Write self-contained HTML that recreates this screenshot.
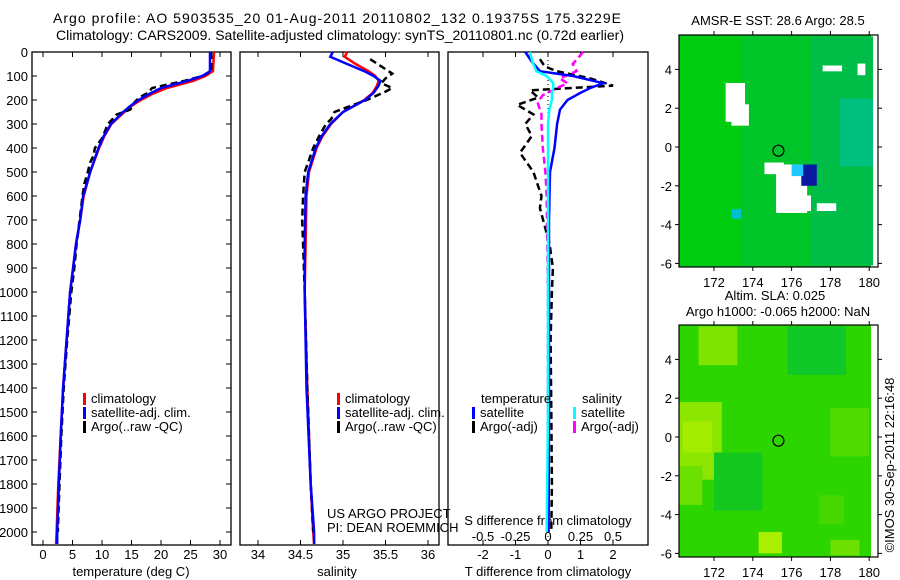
<!DOCTYPE html>
<html><head><meta charset="utf-8"><style>
body{margin:0;background:#fff;width:900px;height:580px;overflow:hidden}
svg{display:block;font-family:"Liberation Sans",sans-serif}
text{fill:#000}
</style></head><body>
<svg id="c" width="900" height="580" viewBox="0 0 900 580" xmlns="http://www.w3.org/2000/svg">
<text x="337" y="23" font-size="14" text-anchor="middle" textLength="568">Argo profile: AO 5903535_20 01-Aug-2011 20110802_132 0.19375S 175.3229E</text>
<text x="340" y="40" font-size="14" text-anchor="middle" textLength="568">Climatology: CARS2009. Satellite-adjusted climatology: synTS_20110801.nc (0.72d earlier)</text>
<g id="plots"></g>
<g id="maps"></g>
</svg>
<script>
// ---- data ----
const depthT = [0,80,100,120,150,175,200,225,250,300,350,400,500,600,700,800,900,1000,1200,1400,1600,1800,2000,2050];
const tempClim = [29.0,28.8,27.5,25.5,21.0,18.5,16.6,15.0,13.8,11.6,10.4,9.5,8.0,6.9,6.3,5.6,5.1,4.6,4.0,3.4,3.0,2.6,2.3,2.2];
const tempSat = [28.3,28.3,27.0,24.5,20.0,18.0,16.2,14.8,13.6,11.5,10.3,9.4,8.0,6.8,6.3,5.6,5.1,4.6,4.0,3.4,3.0,2.7,2.4,2.4];
const depthArgo = [0,80,100,120,150,170,190,210,240,260,300,330,360,400,430,460,500,550,600,700,800,900,1000,1200,1400,1600,1800,2000];
const tempArgo = [28.5,28.5,27.0,24.0,18.5,17.8,16.3,15.5,14.8,12.5,11.0,10.5,10.0,8.8,8.6,8.0,7.6,7.0,6.7,6.2,5.7,5.3,4.8,4.1,3.5,3.1,2.8,2.5];
const depthS = [0,20,50,80,100,120,140,170,200,250,300,350,400,500,600,800,1000,1400,1800,2000,2050];
const salClim = [35.05,35.02,35.15,35.30,35.38,35.42,35.40,35.35,35.25,35.00,34.86,34.76,34.69,34.60,34.57,34.56,34.55,34.58,34.62,34.65,34.66];
const salSat = [34.88,34.85,35.05,35.25,35.36,35.44,35.42,35.36,35.26,35.00,34.85,34.75,34.68,34.59,34.56,34.55,34.55,34.57,34.62,34.66,34.66];
const depthSA = [30,60,90,110,130,150,165,200,230,250,280,300,350,400,450,500,600,700,800,1000,1400,1800,2000];
const salArgo = [35.32,35.45,35.58,35.50,35.45,35.58,35.50,35.28,35.05,34.90,34.86,34.80,34.72,34.65,34.60,34.55,34.53,34.52,34.53,34.55,34.58,34.62,34.65];
const depthD = [0,40,80,100,130,150,170,200,240,300,400,500,700,1000,1500,2000];
const tDiffSat = [-0.7,-0.5,-0.25,0.77,1.7,1.3,1.0,0.6,0.37,0.28,0.2,0.06,0.03,0.03,0.03,0.02];
const sDiffSat = [-0.14,-0.12,-0.09,-0.01,0.04,0.04,0.03,0.03,0.01,0.0,0.0,0.0,0.0,0.0,0.0,-0.01];
const depthDA = [30,60,80,110,140,160,190,220,260,300,350,420,500,600,650,700,800,900,1000,1200,1500,1800,2000];
const tDiffArgo = [-0.25,-0.1,0.27,1.3,2.0,-0.55,-0.3,-0.95,-0.45,-0.7,-0.5,-0.86,-0.45,-0.2,-0.25,-0.15,0.05,0.15,0.12,0.08,0.1,0.12,0.1];
const depthSD = [0,50,80,110,130,150,180,210,260,300,400,500,600,1000,1500,2000];
const sDiffArgo = [0.27,0.19,0.22,0.09,0.15,0.07,-0.04,-0.08,-0.05,-0.05,-0.04,-0.02,-0.01,0.0,0.0,0.0];
const depthTicks = [0,100,200,300,400,500,600,700,800,900,1000,1100,1200,1300,1400,1500,1600,1700,1800,1900,2000];
const tempTicks = [0,5,10,15,20,25,30];
const salTicks = [34,34.5,35,35.5,36];
const tdTicks = [-2,-1,0,1,2];
const sdTicks = [-0.5,-0.25,0,0.25,0.5];
const sdTickLabels = ["-0.5","-0.25","0","0.25","0.5"];
const lonTicks = [172,174,176,178,180];
const latTicks = [4,2,0,-2,-4,-6];

// ---- axes ----
const NS="http://www.w3.org/2000/svg";
const TOP=52,BOT=545;
const yD = d => TOP + d*0.24;
const xT = v => 43 + v*5.9;
const xS = v => 258 + (v-34)*85;
const xTD = v => 548 + v*32.5;
const xSD = v => 548 + v*130;
const G=document.getElementById('plots');
function mk(tag,attrs,parent){const e=document.createElementNS(NS,tag);for(const k in attrs)e.setAttribute(k,attrs[k]);(parent||G).appendChild(e);return e;}
function txt(x,y,s,size,anchor,parent){const e=mk('text',{x:x,y:y,'font-size':size,'text-anchor':anchor||'middle'},parent);e.textContent=s;return e;}
function line(xs,ys,xf,color,dash,name){
  const p=xs.map((v,i)=>(i?'L':'M')+xf(v).toFixed(1)+' '+yD(ys[i]).toFixed(1)).join(' ');
  const e=mk('path',{d:p,fill:'none',stroke:color,'stroke-width':2.5});
  if(dash)e.setAttribute('stroke-dasharray',dash);
  
  
}
const panels=[[32,231,'temperature-panel'],[240,439,'salinity-panel'],[448,648,'difference-panel']];
panels.forEach(p=>{
  const r=mk('rect',{x:p[0],y:TOP,width:p[1]-p[0],height:BOT-TOP,fill:'none',stroke:'#000','stroke-width':1.3});
  
  
});
depthTicks.forEach(d=>{
  const t=txt(28,yD(d)+5,String(d),13,'end');
  
  
  mk('line',{x1:32,x2:37,y1:yD(d),y2:yD(d),stroke:'#000'});
  mk('line',{x1:226,x2:231,y1:yD(d),y2:yD(d),stroke:'#000'});
});
function xticks(ticks,labels,xf,y,name){
  ticks.forEach((v,i)=>{
    const t=txt(xf(v),y,labels[i],13);
    
    
    mk('line',{x1:xf(v),x2:xf(v),y1:TOP,y2:TOP+5,stroke:'#000'});
    mk('line',{x1:xf(v),x2:xf(v),y1:BOT,y2:BOT-5,stroke:'#000'});
  });
}
xticks(tempTicks,tempTicks.map(String),xT,559,'temp-tick-label');
xticks(salTicks,salTicks.map(String),xS,559,'salinity-tick-label');
xticks(tdTicks,tdTicks.map(String),xTD,559,'tdiff-tick-label');
sdTicks.forEach((v,i)=>{const t=txt(xSD(v),541,sdTickLabels[i],13);
  
  });
[[131,'temperature (deg C)','temp-axis-title'],[337,'salinity','salinity-axis-title'],[548,'T difference from climatology','tdiff-axis-title']].forEach(a=>{
  const t=txt(a[0],576,a[1],13);
  
  });
{const t=txt(548,525,'S difference from climatology',13);
 
 }
mk('line',{x1:548,x2:548,y1:TOP,y2:BOT,stroke:'#000','stroke-dasharray':'1,3'});
line(tempClim,depthT,xT,'#f00',null,'temp-climatology-line');
line(tempArgo,depthArgo,xT,'#000','7,4','temp-argo-line');
line(tempSat,depthT,xT,'#00f',null,'temp-satellite-line');
line(salClim,depthS,xS,'#f00',null,'sal-climatology-line');
line(salArgo,depthSA,xS,'#000','7,4','sal-argo-line');
line(salSat,depthS,xS,'#00f',null,'sal-satellite-line');
line(tDiffArgo,depthDA,xTD,'#000','7,4','tdiff-argo-line');
line(sDiffArgo,depthSD,xSD,'#f0f','7,4','sdiff-argo-line');
line(tDiffSat,depthD,xTD,'#00f',null,'tdiff-satellite-line');
line(sDiffSat,depthD,xSD,'#0ff',null,'sdiff-satellite-line');
function leg(x,y,color,label,name){
  mk('rect',{x:x,y:y-10,width:3,height:12,fill:color});
  const t=txt(x+8,y,label,13,'start');
  
  
}
[[32,'left'],[240,'mid']].forEach(p=>{const x=p[0]===32?83:337;
  leg(x,403,'#f00','climatology',p[1]+'-legend-climatology');
  leg(x,417,'#00f','satellite-adj. clim.',p[1]+'-legend-satellite');
  leg(x,431,'#000','Argo(..raw -QC)',p[1]+'-legend-argo');});
{const t=txt(481,403,'temperature',13,'start');
 const s=txt(582,403,'salinity',13,'start');}
leg(472,417,'#00f','satellite','legend-t-satellite');
leg(472,431,'#000','Argo(-adj)','legend-t-argo');
leg(573,417,'#0ff','satellite','legend-s-satellite');
leg(573,431,'#f0f','Argo(-adj)','legend-s-argo');
{const a=txt(327,518,'US ARGO PROJECT',13,'start');
 const b=txt(327,532,'PI: DEAN ROEMMICH',13,'start');}

// ---- maps ----
const M=document.getElementById('maps');
function map(top,bot,y0,base,blobs,name){
  const L=679,R=878,dx=19.4;
  const lonX=v=>714+(v-172)*dx, latY=v=>y0-v*dx;
  const g=mk('g',{},M);
  
  
  mk('rect',{x:L,y:top,width:871-L,height:bot-top,fill:base},g);
  blobs.forEach(b=>mk('rect',{x:lonX(b[0]),y:latY(b[1]),width:b[2]*dx,height:b[3]*dx,fill:b[4]},g));
  mk('rect',{x:L,y:top,width:R-L,height:bot-top,fill:'none',stroke:'#000','stroke-width':1.2},g);
  lonTicks.forEach(v=>{mk('line',{x1:lonX(v),x2:lonX(v),y1:top,y2:top-4,stroke:'#000'},g);mk('line',{x1:lonX(v),x2:lonX(v),y1:bot,y2:bot+4,stroke:'#000'},g);
    const t=txt(lonX(v),bot+20,String(v),13,'middle',g);});
  latTicks.forEach(v=>{mk('line',{x1:L,x2:L-4,y1:latY(v),y2:latY(v),stroke:'#000'},g);mk('line',{x1:R,x2:R+4,y1:latY(v),y2:latY(v),stroke:'#000'},g);
    const t=txt(672,latY(v)+5,String(v),13,'end',g);});
  mk('circle',{cx:lonX(175.32),cy:latY(-0.19),r:5.5,fill:'none',stroke:'#000','stroke-width':1.2},g);
  return g;
}
map(35,267,147,'#00c428',[
 [170.2,5.7,3.2,11.8,'#00cc10'],[177,5.7,3.2,11.8,'#00bd48'],[178.5,2.5,1.7,3.5,'#00c080'],
 [172.6,3.3,1,2,'#fff'],[172.9,2.2,0.9,1.1,'#fff'],[174.6,-0.8,1,0.6,'#fff'],[175.2,-0.9,1.6,2.5,'#fff'],[175.8,-2.5,1.2,0.8,'#fff'],
 [176.5,-0.9,0.8,1.1,'#0a1aa0'],[176,-0.9,0.6,0.6,'#20c8ff'],[177.3,-2.9,1,0.4,'#fff'],[172.9,-3.2,0.5,0.5,'#00c0d0'],
 [177.6,4.2,1,0.3,'#fff'],[179.4,4.3,0.4,0.6,'#fff']],'sst-map');
map(325,557,437,'#2cd400',[
 [171.2,5.7,2,2,'#80e400'],[170.2,1.8,2.2,4,'#8ce600'],[170.4,0.8,1.5,1.6,'#a4ec00'],[175.8,5.7,3,2.5,'#10c828'],
 [172,-0.8,2.5,3,'#14c820'],[178,1.5,2,2.5,'#50dc00'],
 [174.3,-4.9,1.2,1.1,'#aaee00'],[170.2,-1.5,1.2,2,'#6ce000'],[177.4,-3,1.3,1.5,'#44d800'],[178,-5.3,1.5,0.8,'#6ce000']],'sla-map');
[[778,25,'AMSR-E SST: 28.6 Argo: 28.5','sst-map-title'],[775,300,'Altim. SLA: 0.025','sla-map-title'],[778,316,'Argo h1000: -0.065 h2000: NaN','sla-map-subtitle']].forEach(a=>{
  const t=txt(a[0],a[1],a[2],13,'middle',M);});
{const t=txt(0,0,'©IMOS 30-Sep-2011 22:16:48',13,'middle',M);t.setAttribute('transform','translate(894,465) rotate(-90)');
 }
</script>
</body></html>
